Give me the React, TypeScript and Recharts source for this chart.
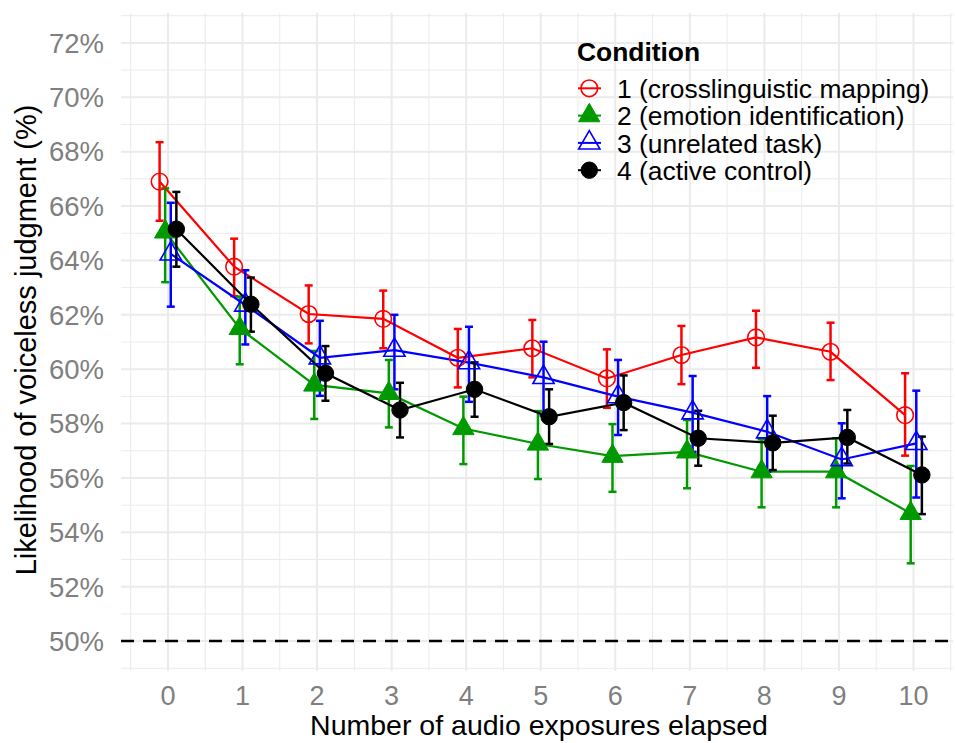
import React from "react";
import { ComposedChart, Line, XAxis, YAxis, CartesianGrid, ErrorBar, ReferenceLine } from "recharts";

const exposures = [0, 1, 2, 3, 4, 5, 6, 7, 8, 9, 10];

const crossMean = [66.9, 63.77, 62.03, 61.85, 60.42, 60.77, 59.66, 60.52, 61.17, 60.64, 58.31];
const crossLow = [65.46, 62.69, 60.95, 60.77, 59.33, 59.7, 58.58, 59.45, 60.05, 59.6, 56.82];
const crossHigh = [68.35, 64.8, 63.08, 62.89, 61.48, 61.81, 60.73, 61.59, 62.15, 61.71, 59.85];

const emotionMean = [65.05, 61.5, 59.42, 59.11, 57.82, 57.25, 56.8, 56.96, 56.23, 56.23, 54.7];
const emotionLow = [63.2, 60.18, 58.17, 57.86, 56.51, 55.96, 55.49, 55.62, 54.92, 54.92, 52.86];
const emotionHigh = [66.65, 62.67, 60.67, 60.34, 58.99, 58.46, 57.98, 58.13, 57.42, 57.46, 56.44];

const unrelatedMean = [64.24, 62.36, 60.42, 60.7, 60.24, 59.7, 58.99, 58.4, 57.7, 56.68, 57.27];
const unrelatedLow = [62.3, 60.91, 59.02, 59.26, 58.8, 58.3, 57.58, 56.96, 56.23, 55.25, 55.28];
const unrelatedHigh = [66.12, 63.64, 61.78, 62.0, 61.56, 61.01, 60.34, 59.75, 59.01, 58.01, 59.21];

const activeMean = [65.15, 62.39, 59.85, 58.5, 59.26, 58.25, 58.77, 57.46, 57.29, 57.49, 56.11];
const activeLow = [63.77, 61.38, 58.84, 57.49, 58.25, 57.25, 57.76, 56.45, 56.29, 56.53, 54.67];
const activeHigh = [66.52, 63.37, 60.85, 59.5, 60.25, 59.26, 59.77, 58.47, 58.29, 58.5, 57.52];

const conditionLabels = [
  "1 (crosslinguistic mapping)",
  "2 (emotion identification)",
  "3 (unrelated task)",
  "4 (active control)",
];

const yTicks = [50, 52, 54, 56, 58, 60, 62, 64, 66, 68, 70, 72];
const yMinor = [49, 51, 53, 55, 57, 59, 61, 63, 65, 67, 69, 71, 73];
const xMinor = [-0.5, 0.5, 1.5, 2.5, 3.5, 4.5, 5.5, 6.5, 7.5, 8.5, 9.5, 10.5];
const chanceLevel = 50;

const FONT = "'Liberation Sans', Arial, Helvetica, sans-serif";
const RED = "#FF0000";
const GREEN = "#009900";
const BLUE = "#0000FF";
const BLACK = "#000000";

// dodge width 0.3 for 4 groups
const DODGE = [-0.1125, -0.0375, 0.0375, 0.1125];

function build(mean: number[], low: number[], high: number[], dodge: number) {
  return exposures.map((e, i) => ({
    x: e + dodge,
    y: mean[i],
    err: [mean[i] - low[i], high[i] - mean[i]],
  }));
}

const crossData = build(crossMean, crossLow, crossHigh, DODGE[0]);
const emotionData = build(emotionMean, emotionLow, emotionHigh, DODGE[1]);
const unrelatedData = build(unrelatedMean, unrelatedLow, unrelatedHigh, DODGE[2]);
const activeData = build(activeMean, activeLow, activeHigh, DODGE[3]);

type Kind = "openCircle" | "filledTri" | "openTri" | "filledCircle";

function Marker({ cx, cy, kind, color }: { cx: number; cy: number; kind: Kind; color: string }) {
  if (cx == null || cy == null || isNaN(cx) || isNaN(cy)) return null;
  if (kind === "openCircle") {
    return <circle cx={cx} cy={cy} r={8.3} fill="none" stroke={color} strokeWidth={1.6} />;
  }
  if (kind === "filledCircle") {
    return <circle cx={cx} cy={cy} r={8.2} fill={color} stroke={color} strokeWidth={1} />;
  }
  const r = 12.3;
  const xc = r * 0.866;
  const pts = `${cx},${cy - r} ${cx + xc},${cy + r / 2} ${cx - xc},${cy + r / 2}`;
  if (kind === "filledTri") {
    return <polygon points={pts} fill={color} stroke={color} strokeWidth={1} />;
  }
  return <polygon points={pts} fill="none" stroke={color} strokeWidth={1.6} />;
}

const makeDot = (kind: Kind, color: string) => (props: any) => (
  <Marker key={`${kind}-${props.index}`} cx={props.cx} cy={props.cy} kind={kind} color={color} />
);

const YTick = (props: any) => (
  <text x={104} y={props.y} dy={9.8} textAnchor="end" fontSize={27.5} fill="#7f7f7f" fontFamily={FONT}>
    {`${props.payload.value}%`}
  </text>
);

const XTick = (props: any) => (
  <text x={props.x} y={705} textAnchor="middle" fontSize={27} fill="#7f7f7f" fontFamily={FONT}>
    {props.payload.value}
  </text>
);

const series = [
  { data: crossData, color: RED, kind: "openCircle" as Kind },
  { data: emotionData, color: GREEN, kind: "filledTri" as Kind },
  { data: unrelatedData, color: BLUE, kind: "openTri" as Kind },
  { data: activeData, color: BLACK, kind: "filledCircle" as Kind },
];

export default function App() {
  return (
    <div style={{ position: "absolute", left: 0, top: 0, width: 955, height: 743, background: "#fff" }}>
      <ComposedChart width={955} height={743} margin={{ top: 13, right: 2, bottom: 0, left: 0 }}>
        <CartesianGrid
          horizontalValues={yMinor}
          verticalValues={xMinor}
          stroke="#EBEBEB"
          strokeWidth={1}
          fill="none"
        />
        <CartesianGrid
          horizontalValues={yTicks}
          verticalValues={exposures}
          stroke="#EBEBEB"
          strokeWidth={2}
          fill="none"
        />
        <XAxis
          type="number"
          dataKey="x"
          domain={[-0.63, 10.53]}
          ticks={exposures}
          allowDataOverflow
          height={72}
          axisLine={false}
          tickLine={false}
          tick={<XTick />}
          interval={0}
        />
        <YAxis
          type="number"
          dataKey="y"
          domain={[48.9, 73.1]}
          ticks={yTicks}
          allowDataOverflow
          width={121}
          axisLine={false}
          tickLine={false}
          tick={<YTick />}
          interval={0}
        />
        <ReferenceLine y={chanceLevel} stroke="#000" strokeWidth={2.5} strokeDasharray="13 9" />
        {series.map((s, i) => (
          <Line
            key={i}
            data={s.data}
            dataKey="y"
            type="linear"
            stroke={s.color}
            strokeWidth={2.2}
            dot={makeDot(s.kind, s.color)}
            activeDot={false}
            isAnimationActive={false}
            legendType="none"
          >
            <ErrorBar dataKey="err" direction="y" width={4} stroke={s.color} strokeWidth={2.5} />
          </Line>
        ))}
      </ComposedChart>
      <svg
        width={955}
        height={743}
        style={{ position: "absolute", left: 0, top: 0, pointerEvents: "none" }}
      >
        <text x={539} y={735} textAnchor="middle" fontSize={28.5} fill="#000" fontFamily={FONT}>
          Number of audio exposures elapsed
        </text>
        <text
          x={36}
          y={340}
          textAnchor="middle"
          fontSize={29}
          fill="#000"
          fontFamily={FONT}
          transform="rotate(-90 36 340)"
        >
          Likelihood of voiceless judgment (%)
        </text>
        <text x={577} y={61} fontSize={26.4} fontWeight="bold" fill="#000" fontFamily={FONT}>
          Condition
        </text>
        {series.map((s, i) => {
          const base = 98 + i * 27.3;
          const cy = base - 9.7;
          return (
            <g key={i}>
              <line x1={578} x2={601} y1={cy} y2={cy} stroke={s.color} strokeWidth={2} />
              <Marker cx={589.3} cy={cy} kind={s.kind} color={s.color} />
              <text x={617} y={base} fontSize={26.4} fill="#000" fontFamily={FONT}>
                {conditionLabels[i]}
              </text>
            </g>
          );
        })}
      </svg>
    </div>
  );
}
